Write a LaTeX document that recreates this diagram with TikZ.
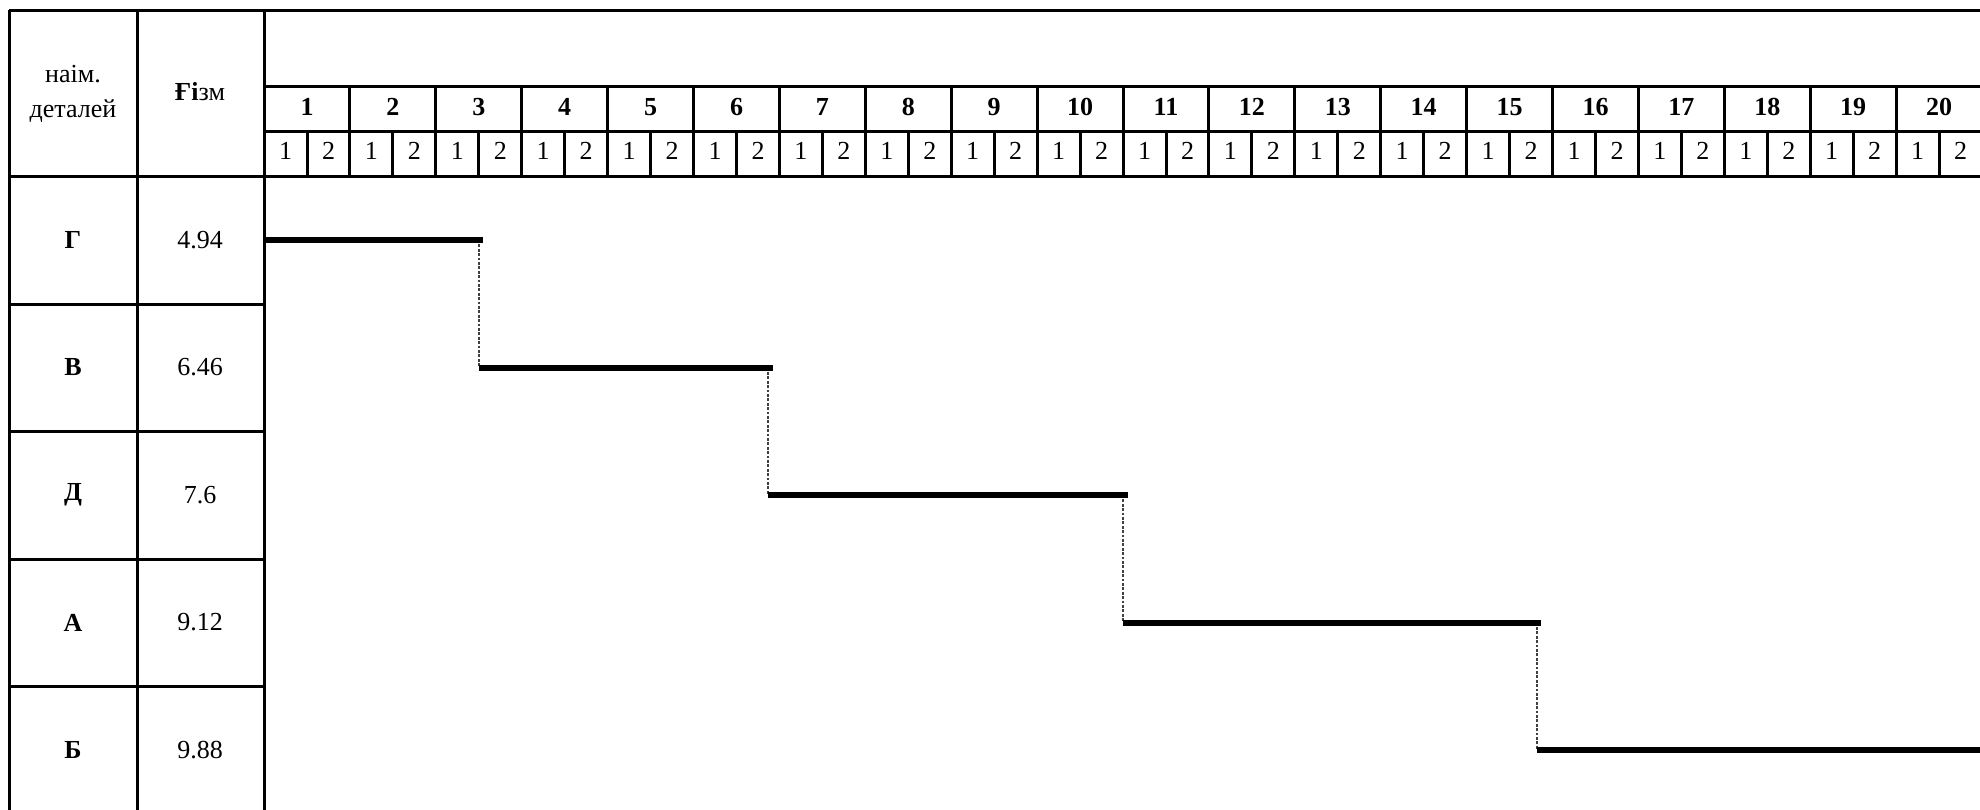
\documentclass[tikz,border=0pt]{standalone}
\usepackage{fontspec}
\setmainfont{Liberation Serif}
\begin{document}
\begin{tikzpicture}[x=0.5pt,y=-0.5pt,
  grid/.style={line width=1.5pt},
  stepline/.style={line width=3pt},
  drop/.style={line width=0.8pt, black!75, dash pattern=on 1.4pt off 0.8pt},
  lbl/.style={inner sep=0pt, font=\fontsize{13}{17.5}\selectfont},
  blbl/.style={lbl, font=\fontsize{13}{17.5}\selectfont\bfseries}]
\useasboundingbox (0,0) rectangle (1980,809);
\clip (0,0) rectangle (1980,809);

% outer frame and main column rules
\draw[grid] (9,10) -- (2010,10);
\draw[grid] (9,10) -- (9,830);
\draw[grid] (137,10) -- (137,830);
\draw[grid] (264,10) -- (264,830);
\draw[grid] (9,176) -- (2010,176);
\draw[grid] (264,86) -- (2010,86);
\draw[grid] (264,131) -- (2010,131);

% row separators in the two label columns
\foreach \yy in {304,431,559,686}
  \draw[grid] (9,\yy) -- (264,\yy);

% header cells: major numbers and their two halves
\foreach \k [evaluate=\k as \n using int(\k+1),
             evaluate=\k as \xa using 264+85.9*\k] in {0,...,19} {
  \draw[grid] (\xa+85.9,86) -- (\xa+85.9,176);
  \draw[grid] (\xa+43,131) -- (\xa+43,176);
  \node[blbl] (maj\n) at (\xa+43,107) {\n};
  \node[lbl] (sa\n) at (\xa+21.5,151) {1};
  \node[lbl] (sb\n) at (\xa+64.5,151) {2};
}

% column headings
\node[lbl, align=center] (hname) at (73,94) {наім.\\деталей};
\node[lbl] (hf) at (200,92) {\textbf{Ғі}зм};

% row labels
\foreach \nm/\val [count=\i from 0] in {Г/4.94, В/6.46, Д/7.6, А/9.12, Б/9.88} {
  \node[blbl] (n\i) at (73,240+127.5*\i) {\nm};
  \node[lbl] (v\i) at (200,240+127.5*\i) {\val};
}

% step chart
\coordinate (p0) at (264,240);
\coordinate (q0) at (483,240);
\coordinate (d0) at (479,240);
\coordinate (p1) at (479,367.5);
\coordinate (q1) at (773,367.5);
\coordinate (d1) at (768,367.5);
\coordinate (p2) at (768,495);
\coordinate (q2) at (1128,495);
\coordinate (d2) at (1123,495);
\coordinate (p3) at (1123,622.5);
\coordinate (q3) at (1541,622.5);
\coordinate (d3) at (1537,622.5);
\coordinate (p4) at (1537,750);
\coordinate (q4) at (2010,750);

\draw[drop] (d0) -- (p1);
\draw[drop] (d1) -- (p2);
\draw[drop] (d2) -- (p3);
\draw[drop] (d3) -- (p4);

\draw[stepline] (p0) -- (q0);
\draw[stepline] (p1) -- (q1);
\draw[stepline] (p2) -- (q2);
\draw[stepline] (p3) -- (q3);
\draw[stepline] (p4) -- (q4);
\end{tikzpicture}
\end{document}
